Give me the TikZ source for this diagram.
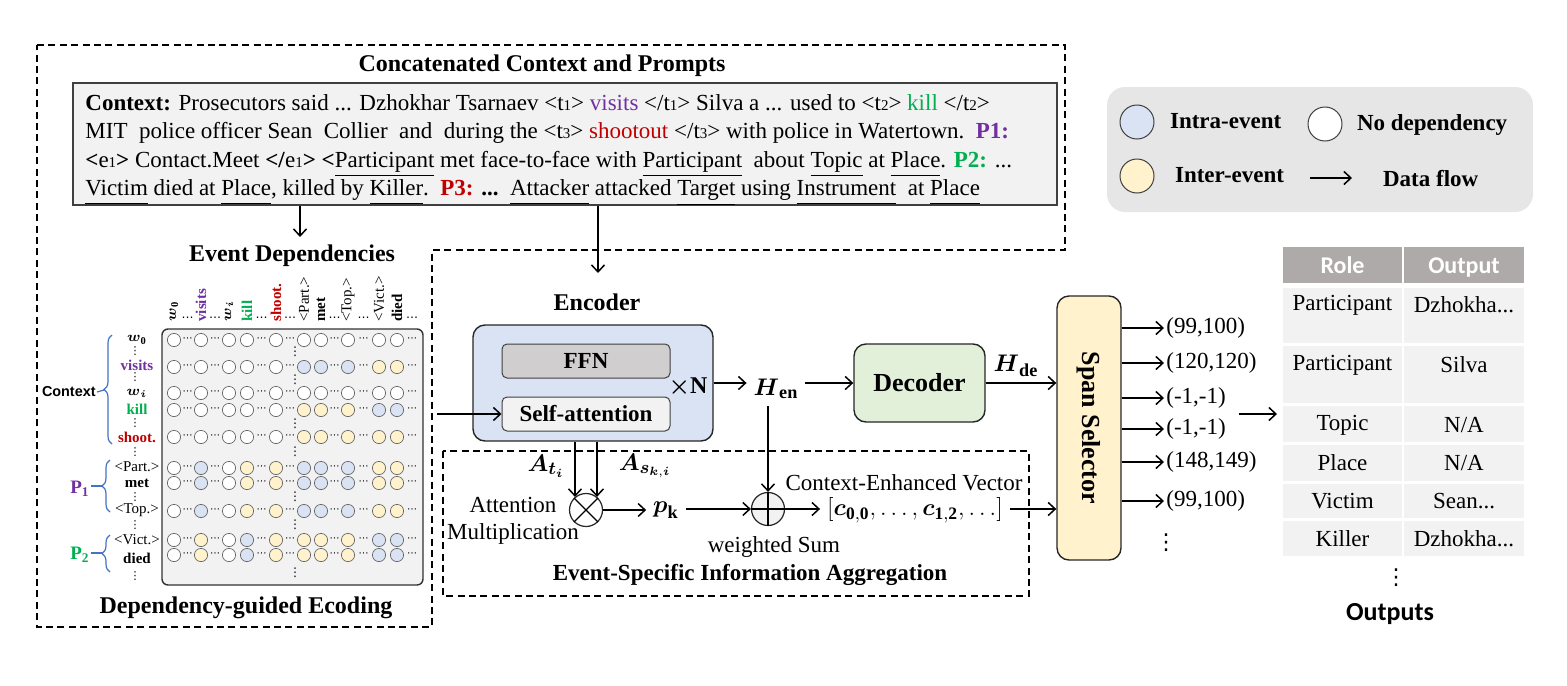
\documentclass[tikz,border=0pt]{standalone}
\usepackage{amsmath}
\usepackage{amssymb}
\usepackage{fontspec}
\setmainfont{Liberation Serif}
\setsansfont{Liberation Sans}
\newfontfamily\calfont{Carlito}
\newfontfamily\symfont{DejaVu Sans}
\usetikzlibrary{arrows.meta, positioning, decorations.pathreplacing}

\definecolor{ia}{HTML}{DAE3F3}
\definecolor{ie}{HTML}{FFF2CC}
\colorlet{nd}{white}
\definecolor{decgreen}{HTML}{E2F0D9}
\definecolor{boxgray}{HTML}{F2F2F2}
\definecolor{ffngray}{HTML}{D0CECE}
\definecolor{leggray}{HTML}{E7E6E6}
\definecolor{headgray}{HTML}{AEAAAA}
\definecolor{evpurple}{HTML}{7030A0}
\definecolor{evgreen}{HTML}{00B050}
\definecolor{evred}{HTML}{C00000}
\definecolor{braceblue}{HTML}{4472C4}

\newcommand{\fsz}[1]{\fontsize{#1}{#1}\selectfont}
\newcommand{\evtag}[2]{<#1{\fontsize{7.5}{8}\selectfont #2}>}
\newcommand{\uln}[1]{\underline{#1\vphantom{p}}}
\newcommand{\thrdots}{...}

\begin{document}
\begin{tikzpicture}[
  x=0.5pt, y=-0.5pt,
  flow/.style={-{Straight Barb[length=3.5pt,width=6.5pt]}, line width=0.75pt},
  dashbox/.style={draw, line width=0.7pt, dash pattern=on 3.5pt off 2.2pt},
  ttl/.style={font=\fsz{12}\bfseries, inner sep=1pt},
  txt/.style={font=\fontsize{11.5}{13.5}\selectfont, inner sep=1pt},
  block/.style={draw=black!85, line width=0.7pt, rounded corners=6pt},
  mdot/.style={circle, draw=black!60, line width=0.35pt, minimum size=6.6pt, inner sep=0pt},
  legdot/.style={circle, draw=black!75, line width=0.5pt, minimum size=17pt, inner sep=0pt},
  mlab/.style={font=\fsz{7.5}\bfseries, inner sep=0.5pt},
  clab/.style={mlab, rotate=90, anchor=west},
  hdots/.style={font=\symfont\fsz{5}, inner sep=0pt},
  vdotsy/.style={font=\symfont\fsz{6}, inner sep=0pt},
  grp/.style={braceblue, line width=0.6pt, decorate, decoration={brace, amplitude=4pt}},
  op/.style={circle, draw=black!85, fill=boxgray, line width=0.6pt, minimum size=16.5pt, inner sep=0pt}
]
\useasboundingbox (0,0) rectangle (1567,685);

\draw[dashbox] (37,45) -- (1065,45) -- (1065,250) -- (432,250) -- (432,627) -- (37,627) -- cycle;
\draw[dashbox] (443,451) rectangle (1029,596);

% input text
\node[ttl] (cctitle) at (542,66) {Concatenated Context and Prompts};
\node[fill=boxgray, draw=black!75, line width=0.7pt, minimum width=492pt, minimum height=61pt] (ctx) at (565,144) {};
\node[anchor=west, align=left, font=\fontsize{11.5}{14.2}\selectfont, inner sep=0pt] (ctxtxt) at (85,150) {%
\textbf{Context:} Prosecutors said ... Dzhokhar Tsarnaev \evtag{t}{1} \textcolor{evpurple}{visits} \evtag{/t}{1} Silva a ... used to \evtag{t}{2} \textcolor{evgreen}{kill} \evtag{/t}{2}\\
MIT\ \ police officer Sean\ \ Collier\ \ and\ \ during the \evtag{t}{3} \textcolor{evred}{shootout} \evtag{/t}{3} with police in Watertown.\ \ \textcolor{evpurple}{\textbf{P1:}}\\
\textbf{<}e{\fontsize{7.5}{8}\selectfont 1}\textbf{>} Contact.Meet \textbf{</}e{\fontsize{7.5}{8}\selectfont 1}\textbf{>} \textbf{<}\uln{Participant} met face-to-face with \uln{Participant}\ \ about \uln{Topic} at \uln{Place}. \textcolor{evgreen}{\textbf{P2:}} ...\\
\uln{Victim} died at \uln{Place}, killed by \uln{Killer}.\ \ \textcolor{evred}{\textbf{P3:}} \textbf{...}\ \ \uln{Attacker} attacked \uln{Target} using \uln{Instrument}\ \ at \uln{Place}};

% dependency matrix
\node[ttl] (evdep) at (292,256) {Event Dependencies};
\coordinate (evin) at (300,237);
\draw[flow] (ctx.south -| evin) -- (evin);
\node[fill=boxgray, draw=black!80, line width=0.7pt, rounded corners=3pt, minimum width=130.5pt, minimum height=128pt] (mat) at (292.5,457) {};
\foreach \y/\pat [count=\r from 0] in {
  340/{nd,nd,nd,nd,nd,nd,nd,nd,nd,nd},
  367/{nd,nd,nd,nd,nd,ia,ia,ia,ie,ie},
  393/{nd,nd,nd,nd,nd,nd,nd,nd,nd,nd},
  410/{nd,nd,nd,nd,nd,ie,ie,ie,ia,ia},
  437/{nd,nd,nd,nd,nd,ie,ie,ie,ie,ie},
  468/{nd,ia,nd,ie,ie,ia,ia,ia,ie,ie},
  483/{nd,ia,nd,ie,ie,ia,ia,ia,ie,ie},
  511/{nd,ia,nd,ie,ie,ia,ia,ia,ie,ie},
  540/{nd,ie,nd,ia,ie,ie,ie,ie,ia,ia},
  555/{nd,ie,nd,ia,ie,ie,ie,ie,ia,ia}}{
  \foreach \c [count=\k from 0] in \pat {
    \pgfmathsetmacro\xx{{174,201,229,247,276,304,321,348,379,397}[\k]}
    \node[mdot, fill=\c] (m-\r-\k) at (\xx,\y) {};
  }
  \foreach \gx [count=\g] in {187.5,215,261.5,290,334.5,363.5,412}
    \node[hdots] (gd-\r-\g) at (\gx,\y) {⋯};
}
\foreach \gx [count=\g] in {187.5,215,261.5,290,334.5,363.5,412}
  \node[hdots, font=\symfont\fsz{6}] (hd-\g) at (\gx,318) {…};
\foreach \vy [count=\g] in {352,380,424,452,497,525,573}
  \node[vdotsy] (vm-\g) at (295,\vy) {⋮};
\foreach \vy [count=\g] in {351,377,423,452,497,525,576}
  \node[vdotsy, font=\symfont\fsz{5.5}] (vl-\g) at (135,\vy) {⋮};
\foreach \xx/\lab [count=\k] in {174/{$\boldsymbol{w}_{\mathbf{0}}$}, 201/{\color{evpurple}visits},
  229/{$\boldsymbol{w}_{\boldsymbol{i}}$}, 247/{\color{evgreen}kill}, 276/{\color{evred}shoot.},
  304/{\mdseries<Part.>}, 321/{met}, 348/{\mdseries<Top.>}, 379/{\mdseries<Vict.>}, 397/{died}}
  \node[clab] (cl-\k) at (\xx,323) {\lab};
\foreach \yy/\lab [count=\k] in {340/{$\boldsymbol{w}_{\mathbf{0}}$}, 365/{\color{evpurple}visits},
  393/{$\boldsymbol{w}_{\boldsymbol{i}}$}, 409/{\color{evgreen}kill}, 437/{\color{evred}shoot.},
  467/{\mdseries<Part.>}, 483/{met}, 510/{\mdseries<Top.>}, 540/{\mdseries<Vict.>}, 558/{died}}
  \node[mlab] (rl-\k) at (137,\yy) {\lab};

\draw[grp] (112,444) -- (112,335);
\draw[grp] (110,512) -- (110,460);
\draw[grp] (110,572) -- (110,535);
\node[font=\sffamily\bfseries\fsz{7.2}, anchor=east, inner sep=0.5pt] (ctxlab) at (97,392) {Context};
\coordinate (ctxtip) at (104,390);
\draw[braceblue, line width=0.6pt] (ctxlab.east) -- (ctxtip);
\node[font=\fsz{9.5}\bfseries, text=evpurple, inner sep=0.5pt] (p1lab) at (80,489) {P$_{\mathbf{1}}$};
\coordinate (p1tip) at (102,486);
\draw[braceblue, line width=0.6pt] (p1lab.east |- p1tip) -- (p1tip);
\node[font=\fsz{9.5}\bfseries, text=evgreen, inner sep=0.5pt] (p2lab) at (80,555) {P$_{\mathbf{2}}$};
\coordinate (p2tip) at (102,553);
\draw[braceblue, line width=0.6pt] (p2lab.east |- p2tip) -- (p2tip);
\node[ttl, font=\fsz{12}\bfseries] (dgenc) at (246,608) {Dependency-guided Ecoding};

% encoder and decoder
\node[ttl] (enctitle) at (597,302) {Encoder};
\coordinate (encin) at (598,273);
\draw[flow] (ctx.south -| encin) -- (encin);
\node[block, fill=ia, minimum width=120pt, minimum height=58pt] (enc) at (593,383) {};
\node[draw=black!75, line width=0.5pt, rounded corners=2.5pt, fill=ffngray, minimum width=84pt, minimum height=17pt, font=\fsz{11.5}\bfseries] (ffn) at (586,361) {FFN};
\node[draw=black!75, line width=0.5pt, rounded corners=2.5pt, fill=boxgray, minimum width=84pt, minimum height=17pt, font=\fsz{11.5}\bfseries] (satt) at (586,414) {Self-attention};
\node[font=\fsz{12}\bfseries] (xn) at (688,387) {$\boldsymbol{\times}$N};
\coordinate (matout) at (437,414);
\draw[flow] (matout) -- (satt.west);
\node[font=\fsz{13}] (hen) at (776,389) {$\boldsymbol{H}_{\mathbf{en}}$};
\draw[flow] (enc.east) -- (enc.east -| hen.west);
\node[block, fill=decgreen, minimum width=65.5pt, minimum height=39pt, font=\fsz{13}\bfseries] (dec) at (919.5,383) {Decoder};
\draw[flow] (dec.west -| hen.east) -- (dec.west);
\node[block, fill=ie, minimum width=32pt, minimum height=132pt] (span) at (1089,428) {};
\node[rotate=-90, font=\fsz{13}\bfseries] (spantxt) at (span.center) {Span Selector};
\draw[flow] (dec.east) -- (dec.east -| span.west);
\node[font=\fsz{13}] (hde) at (1016,366) {$\boldsymbol{H}_{\mathbf{de}}$};

% aggregation
\node[font=\fsz{12.5}] (atl) at (546,466) {$\boldsymbol{A}_{\boldsymbol{t}_{\boldsymbol{i}}}$};
\node[font=\fsz{12.5}] (asl) at (645,466) {$\boldsymbol{A}_{\boldsymbol{s}_{\boldsymbol{k},\boldsymbol{i}}}$};
\node[op, fill=white] (mul) at (586,510) {};
\draw[line width=0.6pt] (mul.north west) -- (mul.south east) (mul.north east) -- (mul.south west);
\draw[flow] (enc.south -| mul.130) -- (mul.130);
\draw[flow] (enc.south -| mul.50) -- (mul.50);
\node[txt, align=center] (attmul) at (513,521) {Attention\\Multiplication};
\node[font=\fsz{13}] (pk) at (666,510) {$\boldsymbol{p}_{\mathbf{k}}$};
\draw[flow] (mul.east) -- (mul.east -| pk.west);
\node[op] (add) at (768,509) {};
\draw[line width=0.6pt] (add.north) -- (add.south) (add.west) -- (add.east);
\draw[flow] (add.west -| pk.east) -- (add.west);
\draw[flow] (hen.south -| add.north) -- (add.north);
\node[txt] (wsum) at (774,547) {weighted Sum};
\node[font=\fsz{12.5}] (cvec) at (915,510) {$[\boldsymbol{c}_{\mathbf{0},\mathbf{0}},\ldots,\boldsymbol{c}_{\mathbf{1},\mathbf{2}},\ldots]$};
\node[txt] (cvlab) at (904,483) {Context-Enhanced Vector};
\draw[flow] (add.east) -- (add.east -| cvec.west);
\draw[flow] (add.east -| cvec.east) -- (add.east -| span.west);
\node[font=\fsz{11.5}\bfseries] (aggtitle) at (750,575) {Event-Specific Information Aggregation};

% spans and outputs
\foreach \y/\sp [count=\n] in {328/{(99,100)}, 363/{(120,120)}, 398/{(-1,-1)}, 429/{(-1,-1)}, 462/{(148,149)}, 501/{(99,100)}}{
  \node[txt, anchor=west] (o\n) at (1164,\y) {\sp};
  \draw[flow] (span.east |- o\n.west) -- (o\n.west);
}
\node[font=\symfont\fsz{11}, inner sep=0pt] (odots) at (1166,543) {⋮};
\coordinate (tabout) at (1239,414);
\coordinate (tabin) at (1277,414);
\draw[flow] (tabout) -- (tabin);

\fill[headgray] (1283,247) rectangle (1402,283);
\fill[headgray] (1404,247) rectangle (1524,283);
\node[font=\calfont\fsz{12}\bfseries, text=white, anchor=base] (hrole) at (1342.5,273) {Role};
\node[font=\calfont\fsz{12}\bfseries, text=white, anchor=base] (hout) at (1464,273) {Output};
\foreach \ya/\yb in {288/343, 346/403, 406/442, 445/481, 484/518, 521/556} {
  \fill[boxgray] (1283,\ya) rectangle (1402,\yb);
  \fill[boxgray] (1404,\ya) rectangle (1524,\yb);
}
\foreach \y/\role/\val [count=\n] in {305/Participant/Dzhokha\thrdots, 365/Participant/Silva, 425/Topic/{N/A},
  463/Place/{N/A}, 501/Victim/Sean\thrdots, 539/Killer/Dzhokha\thrdots}{
  \node[txt] (role\n) at (1342.5,\y) {\role};
  \node[txt] (val\n) at (1464,\y) {\val};
}
\node[font=\symfont\fsz{11}, inner sep=0pt] (tdots) at (1396,578) {⋮};
\node[font=\calfont\fsz{13}\bfseries] (outs) at (1390,614) {Outputs};

% legend
\node[fill=leggray, rounded corners=9pt, minimum width=213pt, minimum height=62.5pt] (legend) at (1320,149.5) {};
\node[legdot, fill=ia] (lgintra) at (1137,122) {};
\node[font=\fsz{11.5}\bfseries, anchor=west] (lgintratxt) at (1163,121) {Intra-event};
\node[legdot, fill=nd] (lgnone) at (1325,124) {};
\node[font=\fsz{11.5}\bfseries, anchor=west] (lgnonetxt) at (1350,125) {No dependency};
\node[legdot, fill=ie] (lginter) at (1137,176) {};
\node[font=\fsz{11.5}\bfseries, anchor=west] (lgintertxt) at (1168,175) {Inter-event};
\coordinate (lgflowa) at (1310,178);
\coordinate (lgflowb) at (1352,178);
\draw[flow] (lgflowa) -- (lgflowb);
\node[font=\fsz{11.5}\bfseries, anchor=west] (lgflowtxt) at (1376,179) {Data flow};
\end{tikzpicture}
\end{document}
